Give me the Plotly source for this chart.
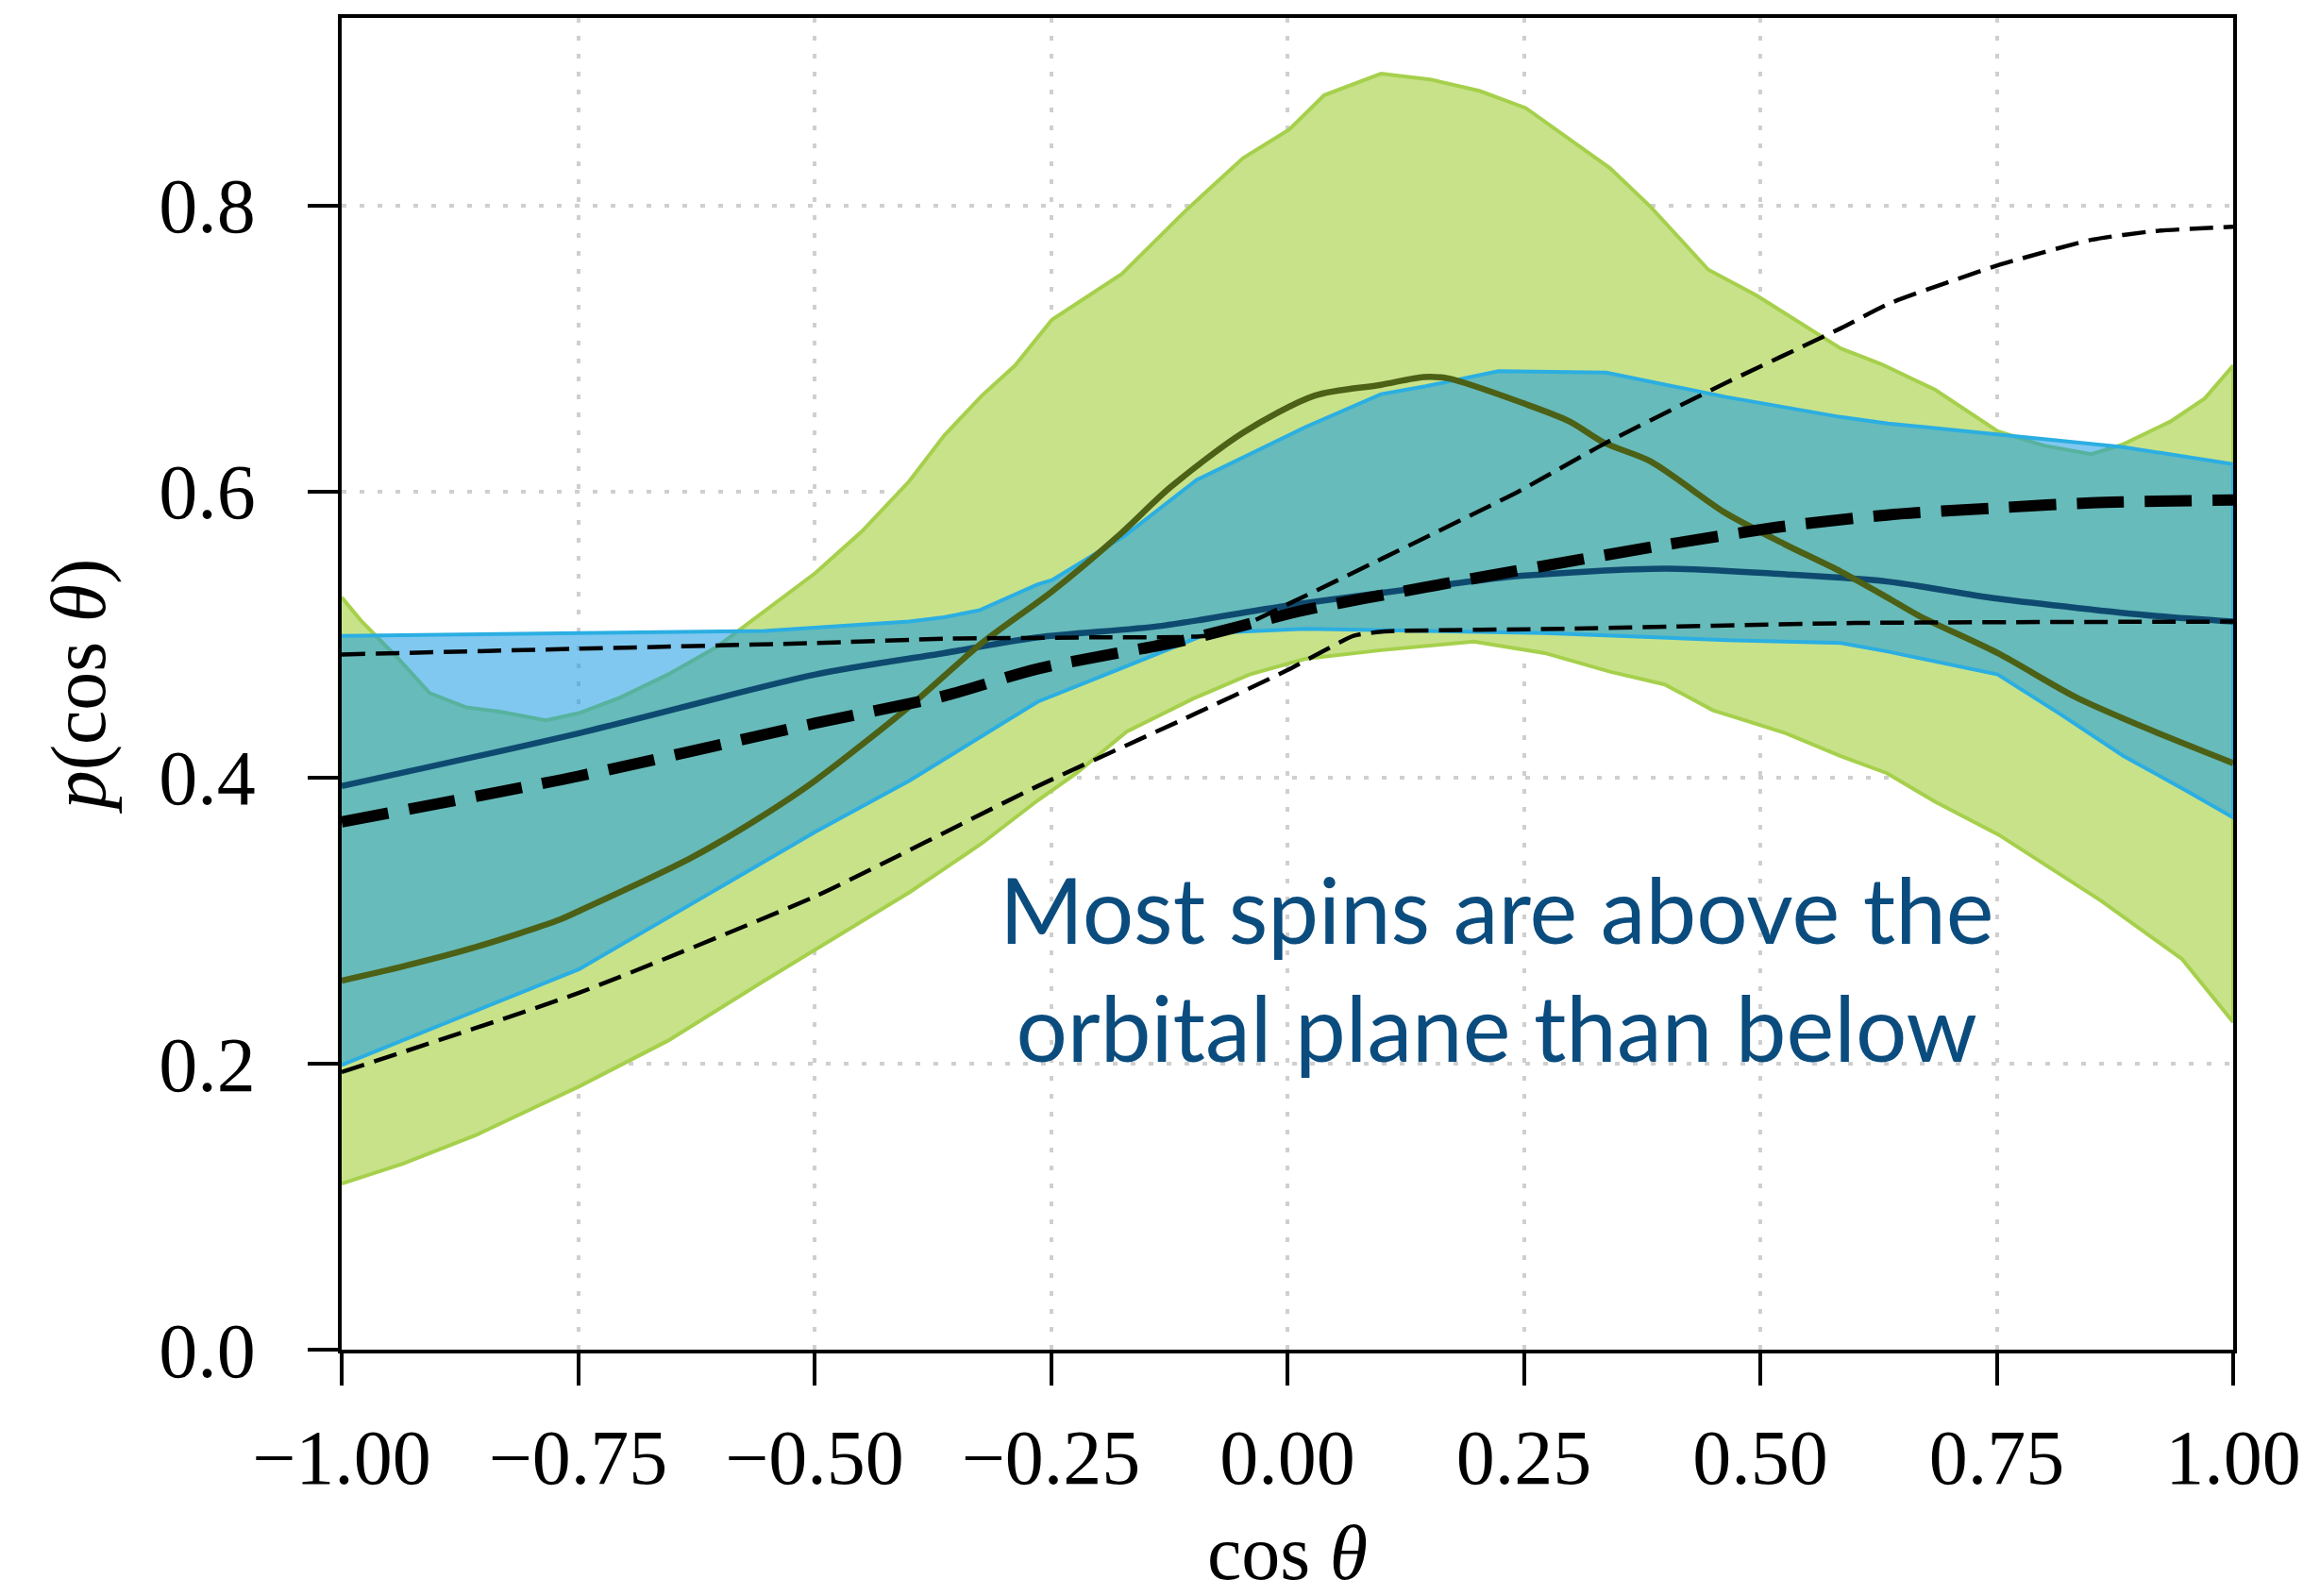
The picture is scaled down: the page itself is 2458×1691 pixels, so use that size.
import plotly.graph_objects as go

# ---------------- data ----------------
green_up_x = [-1.00, -0.98, -0.94, -0.907, -0.868, -0.833, -0.784, -0.749, -0.705, -0.655,
              -0.604, -0.553, -0.499, -0.45, -0.40, -0.363, -0.323, -0.288, -0.249, -0.175,
              -0.108, -0.047, 0.002, 0.039, 0.099, 0.151, 0.203, 0.252, 0.298, 0.341,
              0.384, 0.445, 0.496, 0.557, 0.585, 0.628, 0.685, 0.751, 0.80, 0.85,
              0.884, 0.934, 0.97, 1.00]
green_up_y = [0.526, 0.510, 0.483, 0.459, 0.449, 0.446, 0.440, 0.445, 0.456, 0.472,
              0.491, 0.516, 0.543, 0.572, 0.607, 0.639, 0.667, 0.688, 0.720, 0.752,
              0.796, 0.833, 0.853, 0.877, 0.892, 0.888, 0.880, 0.868, 0.846, 0.826,
              0.799, 0.755, 0.737, 0.712, 0.700, 0.689, 0.671, 0.642, 0.632, 0.626,
              0.633, 0.649, 0.665, 0.688]

green_lo_x = [-1.00, -0.935, -0.858, -0.749, -0.655, -0.553, -0.499, -0.399, -0.323, -0.264,
              -0.223, -0.17, -0.10, -0.04, 0.019, 0.099, 0.197, 0.272, 0.341, 0.399,
              0.45, 0.527, 0.585, 0.634, 0.685, 0.752, 0.86, 0.946, 1.00]
green_lo_y = [0.116, 0.130, 0.150, 0.184, 0.216, 0.258, 0.280, 0.320, 0.354, 0.384,
              0.403, 0.432, 0.455, 0.472, 0.483, 0.489, 0.495, 0.487, 0.474, 0.465,
              0.447, 0.431, 0.415, 0.403, 0.383, 0.360, 0.314, 0.273, 0.229]

blue_up_x = [-1.00, -0.75, -0.553, -0.40, -0.363, -0.325, -0.264, -0.249, -0.172, -0.096,
             0.019, 0.099, 0.146, 0.223, 0.337, 0.464, 0.585, 0.635, 0.751, 0.884, 1.00]
blue_up_y = [0.499, 0.501, 0.5025, 0.509, 0.512, 0.517, 0.535, 0.538, 0.569, 0.608,
             0.645, 0.668, 0.6735, 0.684, 0.683, 0.666, 0.652, 0.6475, 0.640, 0.631, 0.619]

blue_lo_x = [-1.00, -0.749, -0.499, -0.399, -0.264, -0.249, -0.177, -0.083, 0.019, 0.272,
             0.464, 0.585, 0.635, 0.751, 0.818, 0.884, 0.95, 1.00]
blue_lo_y = [0.199, 0.266, 0.362, 0.398, 0.453, 0.457, 0.476, 0.501, 0.504, 0.501,
             0.496, 0.494, 0.488, 0.472, 0.444, 0.415, 0.391, 0.372]

navy_x = [-1.00, -0.749, -0.499, -0.363, -0.264, -0.133, -0.007, 0.146, 0.248, 0.40,
          0.527, 0.634, 0.751, 0.917, 1.00]
navy_y = [0.394, 0.431, 0.472, 0.487, 0.498, 0.506, 0.5195, 0.533, 0.541, 0.546,
          0.542, 0.537, 0.525, 0.513, 0.509]

olive_x = [-1.00, -0.935, -0.858, -0.772, -0.749, -0.63, -0.553, -0.499, -0.399,
           -0.323, -0.249, -0.177, -0.1235, -0.047, 0.029, 0.099, 0.144, 0.170,
           0.252, 0.298, 0.335, 0.384, 0.463, 0.526, 0.585, 0.634, 0.668, 0.751,
           0.834, 0.917, 1.00]
olive_y = [0.258, 0.268, 0.2815, 0.300, 0.3067, 0.344, 0.374, 0.398, 0.450,
           0.494, 0.530, 0.570, 0.603, 0.641, 0.667, 0.6745, 0.680, 0.679,
           0.661, 0.649, 0.634, 0.621, 0.585, 0.563, 0.544, 0.526, 0.513, 0.487,
           0.456, 0.432, 0.410]

thick_x = [-1.00, -0.749, -0.499, -0.363, -0.264, -0.109, 0.018, 0.146, 0.272, 0.399,
           0.527, 0.634, 0.751, 0.85, 1.00]
thick_y = [0.369, 0.401, 0.438, 0.457, 0.476, 0.496, 0.517, 0.533, 0.548, 0.5626,
           0.5757, 0.5835, 0.5885, 0.592, 0.594]

thin_up_x = [-1.00, -0.75, -0.5, -0.363, -0.2, -0.07, 0.0, 0.10, 0.2445, 0.337,
             0.464, 0.585, 0.635, 0.751, 0.851, 0.917, 1.00]
thin_up_y = [0.486, 0.490, 0.494, 0.497, 0.498, 0.500, 0.521, 0.553, 0.600, 0.634,
             0.676, 0.714, 0.731, 0.758, 0.776, 0.782, 0.785]

thin_lo_x = [-1.00, -0.749, -0.499, -0.264, -0.109, 0.0, 0.07, 0.10, 0.30, 0.60, 1.00]
thin_lo_y = [0.194, 0.2495, 0.317, 0.394, 0.441, 0.475, 0.499, 0.502, 0.504, 0.508, 0.509]

x_tick_vals = [-1.0, -0.75, -0.5, -0.25, 0.0, 0.25, 0.5, 0.75, 1.0]
x_tick_text = ["\u22121.00", "\u22120.75", "\u22120.50", "\u22120.25", "0.00", "0.25", "0.50", "0.75", "1.00"]
y_tick_vals = [0.0, 0.2, 0.4, 0.6, 0.8]
y_tick_text = ["0.0", "0.2", "0.4", "0.6", "0.8"]

annotation_text = "Most spins are above the<br>orbital plane than below"

# ---------------- figure ----------------
fig = go.Figure()

# green band
fig.add_trace(go.Scatter(
    x=green_up_x + green_lo_x[::-1], y=green_up_y + green_lo_y[::-1],
    fill="toself", fillcolor="#C8E28A", mode="lines",
    line=dict(color="#A6D04C", width=4), hoverinfo="skip", showlegend=False))

# blue band (semi-transparent over green)
fig.add_trace(go.Scatter(
    x=blue_up_x + blue_lo_x[::-1], y=blue_up_y + blue_lo_y[::-1],
    fill="toself", fillcolor="rgba(20,153,227,0.54)", mode="lines",
    line=dict(color="#2BAEE2", width=4), hoverinfo="skip", showlegend=False))

fig.add_trace(go.Scatter(x=navy_x, y=navy_y, mode="lines",
                         line=dict(color="#0E4A70", width=6.5, shape="spline", smoothing=0.8),
                         showlegend=False))
fig.add_trace(go.Scatter(x=olive_x, y=olive_y, mode="lines",
                         line=dict(color="#4C6016", width=6.5, shape="spline", smoothing=0.8),
                         showlegend=False))
fig.add_trace(go.Scatter(x=thin_up_x, y=thin_up_y, mode="lines",
                         line=dict(color="black", width=4.5, dash="25px,11px", shape="spline", smoothing=0.5),
                         showlegend=False))
fig.add_trace(go.Scatter(x=thin_lo_x, y=thin_lo_y, mode="lines",
                         line=dict(color="black", width=4.5, dash="25px,11px", shape="spline", smoothing=0.5),
                         showlegend=False))
fig.add_trace(go.Scatter(x=thick_x, y=thick_y, mode="lines",
                         line=dict(color="black", width=12, dash="50px,22px", shape="spline", smoothing=0.8),
                         showlegend=False))

fig.add_annotation(x=0.2206, y=0.267, xref="x", yref="y", text=annotation_text,
                   showarrow=False, xanchor="center", yanchor="middle",
                   font=dict(family="Lato", size=96, color="#0B4C7E"))

tick_font = dict(family="Liberation Serif", size=82, color="black")
fig.update_layout(
    width=2458, height=1691,
    margin=dict(l=362, r=92, t=19, b=261, autoexpand=False),
    paper_bgcolor="white", plot_bgcolor="white",
    xaxis=dict(range=[-1, 1], tickvals=x_tick_vals, ticktext=x_tick_text, automargin=False,
               showline=True, linecolor="black", linewidth=3.5, mirror=True,
               ticks="outside", ticklen=34, tickwidth=3.5, tickcolor="black",
               showgrid=True, gridcolor="#CFCFCF", gridwidth=4, griddash="5px,14px",
               zeroline=False, tickfont=tick_font, ticklabelstandoff=6,
               title=dict(text="cos <i>θ</i>", font=tick_font, standoff=46)),
    yaxis=dict(range=[0, 0.931], tickvals=y_tick_vals, ticktext=y_tick_text, automargin=False,
               showline=True, linecolor="black", linewidth=3.5, mirror=True,
               ticks="outside", ticklen=32, tickwidth=3.5, tickcolor="black",
               showgrid=True, gridcolor="#CFCFCF", gridwidth=4, griddash="5px,14px",
               zeroline=False, tickfont=tick_font, ticklabelstandoff=39,
               title=dict(text="<i>p</i>(cos <i>θ</i>)", font=tick_font, standoff=31)),
)

fig.write_html("out.html")
